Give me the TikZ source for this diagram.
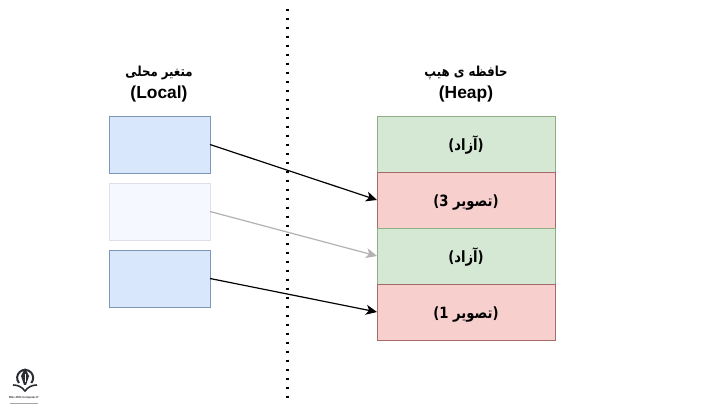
\documentclass[tikz,border=0pt]{standalone}
\usepackage{fontspec}
\setmainfont{Liberation Sans}
\newfontfamily\arabicfont[Script=Arabic,FakeStretch=0.85]{DejaVu Sans}
\TeXXeTstate=1
\usetikzlibrary{arrows.meta}
\definecolor{localfill}{HTML}{D8E7FC}
\definecolor{localline}{HTML}{7C96B8}
\definecolor{fadefill}{HTML}{F5F8FF}
\definecolor{fadeline}{HTML}{DDE0E8}
\definecolor{freefill}{HTML}{D5E8D4}
\definecolor{freeline}{HTML}{8FAE84}
\definecolor{usedfill}{HTML}{F7CFCD}
\definecolor{usedline}{HTML}{A86A68}
\definecolor{logodark}{HTML}{2B2F33}
\tikzset{
  localbox/.style={draw=localline, fill=localfill, line width=0.9pt, minimum width=101pt, minimum height=57pt, inner sep=0pt, outer sep=0pt},
  fadebox/.style={localbox, draw=fadeline, fill=fadefill},
  freebox/.style={draw=freeline, fill=freefill, line width=0.9pt, minimum width=178pt, minimum height=56pt, inner sep=0pt, outer sep=0pt, text height=15pt, text depth=1pt, font=\bfseries\fontsize{15.5}{18}\selectfont},
  usedbox/.style={freebox, draw=usedline, fill=usedfill},
  title/.style={align=center, font=\bfseries\fontsize{17.4}{22}\selectfont},
  ptr/.style={-{Stealth[length=11pt,width=10pt,inset=3pt]}, line width=1.2pt},
}
\begin{document}
\begin{tikzpicture}[x=1pt, y=-1pt]
    \useasboundingbox (0,0) rectangle (720,411);
    \fill[white] (0,0) rectangle (720,411);
    \coordinate (top) at (287.5,8.6);
    \coordinate (bottom) at (287.5,398);
    \draw[line width=2.8pt, dash pattern=on 2.8pt off 6.2pt] (top) -- (bottom);

    \node[title] (localtitle) at (159,84.5) {{\arabicfont\fontsize{13.8}{22}\selectfont\beginR متغیر محلی\endR}\\(Local)};
    \node[title] (heaptitle) at (466,84.5) {{\arabicfont\fontsize{13.8}{22}\selectfont\beginR حافظه ی هیپ\endR}\\(Heap)};

    \node[localbox] (local1) at (159.5,144.5) {};
    \node[fadebox] (local2) at (159.5,211.5) {};
    \node[localbox] (local3) at (159.5,278.5) {};

    \node[freebox] (heap1) at (466,144) {\arabicfont\beginR(آزاد)\endR};
    \node[usedbox] (heap2) at (466,200) {\arabicfont\beginR(تصویر 3)\endR};
    \node[freebox] (heap3) at (466,256) {\arabicfont\beginR(آزاد)\endR};
    \node[usedbox] (heap4) at (466,312) {\arabicfont\beginR(تصویر 1)\endR};

    \draw[ptr] (local1.east) -- (heap2.west);
    \draw[ptr, color=black!30] (local2.east) -- (heap3.west);
    \draw[ptr] (local3.east) -- (heap4.west);

    % logo
    \draw[logodark, line width=2pt] (19,383) arc (220:-40:8pt);
    \fill[logodark] (25,368) -- (29,376) -- (26,385) -- (24,385) -- (21,376) -- cycle;
    \fill[white] (24.6,374) rectangle (25.4,382);
    \draw[logodark, line width=1.6pt] (13,385) .. controls (18,385) and (22,387) .. (25,391) .. controls (28,387) and (32,385) .. (37,385);
    \node[font=\bfseries\fontsize{2.8}{3}\selectfont, text=logodark, inner sep=0pt] (logotext) at (24,398) {MSc-PhD-Computer-IT};
    \draw[black!35, line width=1pt] (10,403) -- (38,403);
\end{tikzpicture}
\end{document}
